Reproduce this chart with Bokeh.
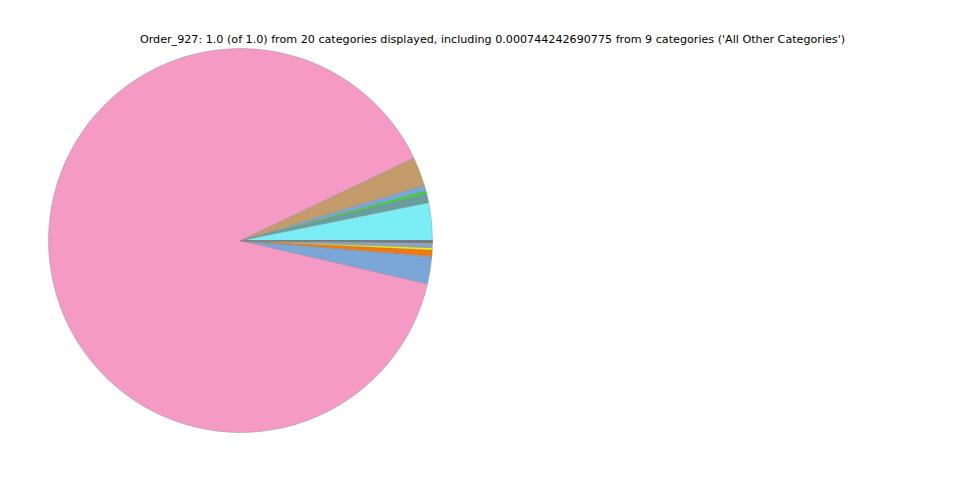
import numpy as np
from bokeh.plotting import figure
from bokeh.models import ColumnDataSource, Label
from bokeh.embed import file_html
from bokeh.resources import INLINE

title_text = "Order_927: 1.0 (of 1.0) from 20 categories displayed, including 0.000744242690775 from 9 categories ('All Other Categories')"

categories = ["C01", "C02", "C03", "C04", "C05", "C06", "C07", "C08", "C09", "C10",
              "C11", "C12", "C13", "C14", "C15", "C16", "C17", "C18", "C19", "All Other Categories"]
values = [0.0317, 0.0078, 0.0022, 0.0048, 0.0242, 0.89346, 0.0225, 0.0008, 0.0050, 0.0020,
          0.0040, 0.0003, 0.0002, 0.0002, 0.0001, 0.0001, 0.0001, 0.0001, 0.0001, 0.000744]
colors = ["#7aeef4", "#6a9e9e", "#1ee61e", "#7ba7d8", "#c49c6c", "#f49ac4", "#7ba7d8", "#a0a0a0",
          "#f5790a", "#f5f500", "#8aa6c4", "#8b6b3b", "#404090", "#909090", "#6b6b6b",
          "#c0a060", "#505050", "#3060a0", "#707070", "#444444"]

vals = np.array(values, dtype=float)
vals = vals / vals.sum()
ends = np.cumsum(vals) * 2 * np.pi
starts = np.concatenate([[0.0], ends[:-1]])

src = ColumnDataSource(dict(cat=categories, start=starts, end=ends, color=colors))

W, H = 952, 472
p = figure(width=W, height=H, x_range=(0, W), y_range=(0, H),
           output_backend="svg", toolbar_location=None, min_border=0)
p.axis.visible = False
p.grid.visible = False
p.outline_line_color = None
p.background_fill_color = "white"

p.wedge(x=240, y=H - 240, radius=192, start_angle="start", end_angle="end",
        fill_color="color", line_color="#888888", line_width=0.4, source=src)

p.add_layout(Label(x=492, y=H - 39, x_units="screen", y_units="screen", text=title_text,
                   text_align="center", text_baseline="middle", text_font="DejaVu Sans",
                   text_font_size="11.15px", text_color="black"))

open("out.html", "w").write(file_html(p, INLINE))
